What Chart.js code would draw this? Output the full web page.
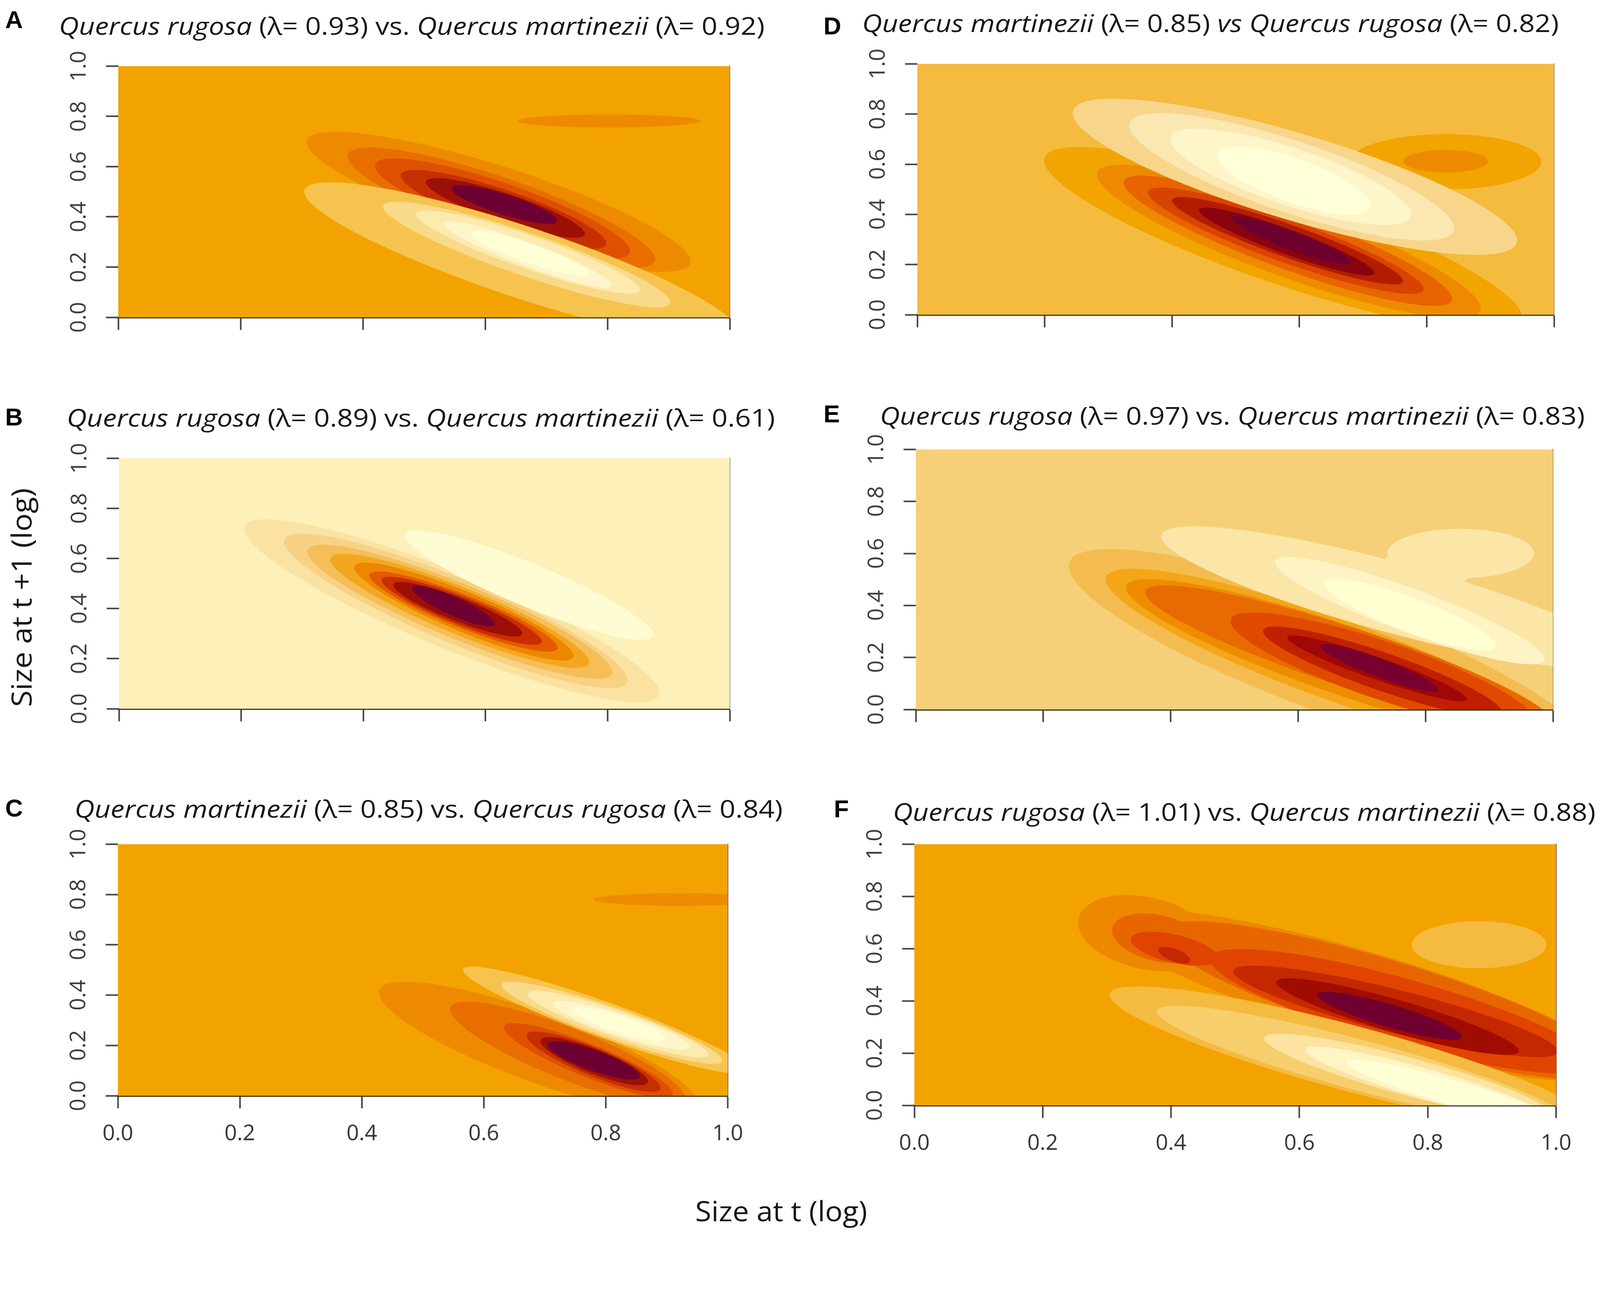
<!DOCTYPE html>
<html>
<head>
<meta charset="utf-8">
<title>Quercus IPM contour comparisons</title>
<script src="https://cdn.jsdelivr.net/npm/chart.js@4.4.1/dist/chart.umd.min.js"></script>
<style>
  html, body { margin: 0; padding: 0; background: #fff; overflow: hidden; }
  #root { position: absolute; left: 0; top: 0; width: 4317px; height: 3325px; transform-origin: 0 0; background: #fff; }
  canvas { position: absolute; }
  .txt { position: absolute; white-space: nowrap; line-height: 1; color: #161616; font-family: "Open Sans", sans-serif; }
  .letter { position: absolute; line-height: 1; font-family: "Liberation Sans", Arial, sans-serif; font-weight: bold; font-size: 66px; color: #000; }
</style>
</head>
<body>
<div id="root"></div>
<script>
// ticks shared by every panel
const tickValues = [0, 0.2, 0.4, 0.6, 0.8, 1.0];
const xTickLabels = ['0.0', '0.2', '0.4', '0.6', '0.8', '1.0'];
const yTickLabels = ['0.0', '0.2', '0.4', '0.6', '0.8', '1.0'];

const panelLetters = ['A', 'B', 'C', 'D', 'E', 'F'];
const firstSpecies = ['Quercus rugosa', 'Quercus rugosa', 'Quercus martinezii', 'Quercus martinezii', 'Quercus rugosa', 'Quercus rugosa'];
const firstLambda = ['0.93', '0.89', '0.85', '0.85', '0.97', '1.01'];
const joinWords = ['vs.', 'vs.', 'vs.', 'vs', 'vs.', 'vs.'];
const secondSpecies = ['Quercus martinezii', 'Quercus martinezii', 'Quercus rugosa', 'Quercus rugosa', 'Quercus martinezii', 'Quercus martinezii'];
const secondLambda = ['0.92', '0.61', '0.84', '0.82', '0.83', '0.88'];

const yAxisTitle = 'Size at t +1 (log)';
const xAxisTitle = 'Size at t (log)';

// filled contour bands, back to front:
// [level, cx, cy, dx, dy, h]  centre (cx,cy), left/right tips at (cx∓dx, cy∓dy), h = vertical half-height at centre
const contoursA = [
  [6, 0.622, 0.460, 0.314, -0.237, 0.147],
  [7, 0.6265, 0.436, 0.2515, -0.205, 0.125],
  [8, 0.6285, 0.433, 0.2085, -0.170, 0.105],
  [9, 0.630, 0.4295, 0.168, -0.1345, 0.081],
  [10, 0.633, 0.4355, 0.130, -0.1025, 0.060],
  [11, 0.6315, 0.449, 0.0865, -0.064, 0.042],
  [6, 0.803, 0.782, 0.149, 0.000, 0.026],
  [4, 0.660, 0.220, 0.356, -0.280, 0.150],
  [3, 0.668, 0.250, 0.235, -0.190, 0.090],
  [2, 0.670, 0.260, 0.183, -0.150, 0.070],
  [1, 0.670, 0.250, 0.138, -0.122, 0.050],
  [0, 0.673, 0.255, 0.097, -0.080, 0.040]
];
const contoursB = [
  [2, 0.545, 0.391, 0.340, -0.327, 0.163],
  [3, 0.5515, 0.391, 0.2815, -0.276, 0.138],
  [4, 0.558, 0.3875, 0.250, -0.2405, 0.118],
  [5, 0.558, 0.391, 0.212, -0.205, 0.100],
  [6, 0.5645, 0.388, 0.1795, -0.176, 0.085],
  [7, 0.564, 0.388, 0.154, -0.144, 0.070],
  [8, 0.561, 0.391, 0.131, -0.122, 0.060],
  [9, 0.5545, 0.3975, 0.1055, -0.0965, 0.050],
  [10, 0.5475, 0.410, 0.0675, -0.0705, 0.040],
  [0, 0.6715, 0.4935, 0.2035, -0.1985, 0.093]
];
const contoursC = [
  [6, 0.689, 0.190, 0.261, -0.220, 0.145],
  [7, 0.7375, 0.1665, 0.1925, -0.1765, 0.109],
  [8, 0.7715, 0.140, 0.1385, -0.131, 0.070],
  [9, 0.780, 0.135, 0.110, -0.104, 0.060],
  [10, 0.781, 0.137, 0.088, -0.080, 0.052],
  [11, 0.7805, 0.140, 0.0755, -0.063, 0.043],
  [6, 0.920, 0.780, 0.140, 0.000, 0.025],
  [4, 0.800, 0.300, 0.234, -0.200, 0.075],
  [3, 0.810, 0.290, 0.181, -0.150, 0.065],
  [2, 0.820, 0.285, 0.149, -0.121, 0.055],
  [1, 0.826, 0.280, 0.113, -0.086, 0.045],
  [0, 0.822, 0.2855, 0.075, -0.0575, 0.035]
];
const contoursD = [
  [5, 0.5745, 0.3025, 0.3755, -0.3125, 0.190],
  [6, 0.5835, 0.292, 0.3015, -0.266, 0.150],
  [7, 0.582, 0.295, 0.258, -0.231, 0.119],
  [8, 0.5785, 0.295, 0.2165, -0.192, 0.090],
  [9, 0.5815, 0.295, 0.1815, -0.160, 0.069],
  [10, 0.580, 0.292, 0.138, -0.125, 0.052],
  [11, 0.587, 0.2975, 0.093, -0.0875, 0.040],
  [5, 0.830, 0.610, 0.150, 0.000, 0.110],
  [6, 0.830, 0.612, 0.066, 0.000, 0.045],
  [3, 0.593, 0.550, 0.349, -0.254, 0.180],
  [2, 0.588, 0.550, 0.255, -0.205, 0.150],
  [1, 0.5865, 0.550, 0.1895, -0.1505, 0.120],
  [0, 0.5915, 0.5355, 0.1205, -0.0995, 0.093]
];
const contoursE = [
  [4, 0.650, 0.200, 0.410, -0.351, 0.225],
  [5, 0.660, 0.190, 0.362, -0.310, 0.165],
  [6, 0.670, 0.190, 0.340, -0.278, 0.140],
  [7, 0.680, 0.200, 0.320, -0.250, 0.120],
  [8, 0.732, 0.150, 0.238, -0.190, 0.117],
  [9, 0.7325, 0.1455, 0.1875, -0.1555, 0.077],
  [10, 0.724, 0.158, 0.141, -0.118, 0.045],
  [11, 0.7275, 0.160, 0.0925, -0.0835, 0.038],
  [2, 0.750, 0.430, 0.365, -0.236, 0.140],
  [2, 0.800, 0.540, 0.070, -0.020, 0.055],
  [2, 0.855, 0.600, 0.115, 0.000, 0.095],
  [1, 0.7755, 0.380, 0.2115, -0.1855, 0.090],
  [0, 0.7755, 0.365, 0.1345, -0.119, 0.070]
];
const contoursF = [
  [6, 0.360, 0.660, 0.105, -0.040, 0.140],
  [6, 0.700, 0.420, 0.400, -0.280, 0.175],
  [7, 0.380, 0.640, 0.072, -0.030, 0.090],
  [7, 0.740, 0.400, 0.360, -0.260, 0.160],
  [8, 0.405, 0.600, 0.068, -0.035, 0.055],
  [8, 0.760, 0.360, 0.300, -0.200, 0.130],
  [9, 0.405, 0.575, 0.025, -0.020, 0.025],
  [9, 0.750, 0.360, 0.253, -0.153, 0.085],
  [10, 0.753, 0.340, 0.189, -0.1315, 0.065],
  [11, 0.7405, 0.343, 0.1125, -0.080, 0.045],
  [4, 0.680, 0.180, 0.376, -0.243, 0.130],
  [3, 0.700, 0.150, 0.322, -0.209, 0.100],
  [2, 0.770, 0.110, 0.225, -0.146, 0.075],
  [1, 0.800, 0.080, 0.191, -0.132, 0.060],
  [0, 0.850, 0.040, 0.177, -0.127, 0.050],
  [4, 0.880, 0.615, 0.105, 0.000, 0.090]
];

// level colours per panel, light -> dark
const shadesA = ['#FFFFD6', '#FEF6CA', '#FCEAAE', '#F9D98A', '#F6C44E', '#F3A300', '#EE8A00', '#E96E00', '#DF5000', '#C63000', '#9C1008', '#6C0032'];
const shadesB = ['#FFFCD4', '#FDF0B8', '#FAE3A2', '#F8D284', '#F5BE58', '#F3A720', '#EE8600', '#E35A00', '#C82E00', '#9C0E08', '#6E0032'];
const shadesC = shadesA;
const shadesD = ['#FFFFD8', '#FEF5C8', '#FBE7B2', '#F7D68C', '#F4BB3E', '#F2A400', '#EE8A00', '#E86400', '#D84400', '#B41C00', '#8A0410', '#6E0030'];
const shadesE = ['#FFFFD2', '#FEF3C4', '#FBE6A8', '#F5D078', '#F4BC50', '#F3A618', '#EE8C00', '#E86A00', '#E04A00', '#C02000', '#A00808', '#780030'];
const shadesF = ['#FFFFD6', '#FEF4C4', '#FBE3A0', '#F7CE6C', '#F5BA40', '#F3A300', '#EE8800', '#E86600', '#E04400', '#C42800', '#A00C00', '#700030'];
const baseLevel = [5, 1, 5, 4, 3, 5];

const allContours = [contoursA, contoursB, contoursC, contoursD, contoursE, contoursF];
const allShades = [shadesA, shadesB, shadesC, shadesD, shadesE, shadesF];

// page layout (pixels, in the 4317 x 3325 frame)
const plotBoxes = [
  [319, 163, 1969, 856], [321, 1221, 1969, 1912], [318, 2262, 1969, 2956],
  [2475, 157, 4193, 849], [2471, 1197, 4190, 1914], [2467, 2262, 4204, 2982]
];
const showXLabels = [false, false, true, false, false, true];
const titleSpans = [
  [159, 2063, 70], [180, 2091, 1127], [201, 2112, 2182],
  [2326, 4206, 62], [2374, 4276, 1122], [2409, 4305, 2190]
];
const letterPos = [[14, 20], [14, 1092], [14, 2147], [2222, 37], [2222, 1083], [2250, 2149]];

const root = document.getElementById('root');

const plotBg = {
  id: 'plotBg',
  beforeDatasetsDraw(chart, args, opts) {
    const { ctx, chartArea: a } = chart;
    ctx.save();
    ctx.fillStyle = opts.color;
    ctx.fillRect(a.left, a.top, a.right - a.left, a.bottom - a.top);
    ctx.restore();
  }
};

function bandOutline(band) {
  const [, cx, cy, dx, dy, h] = band;
  const pts = [];
  const n = 120;
  for (let k = 0; k <= n; k++) {
    const t = (k / n) * 2 * Math.PI;
    pts.push({ x: cx + dx * Math.cos(t), y: cy + dy * Math.cos(t) + h * Math.sin(t) });
  }
  return pts;
}

const tickFont = { family: '"Open Sans", sans-serif', size: 59 };
const yW = 200, padTop = 50, padRight = 70;

plotBoxes.forEach((box, i) => {
  const [left, top, right, bottom] = box;
  const bottomH = showXLabels[i] ? 170 : 70;
  const w = right - left + yW + padRight;
  const h = bottom - top + padTop + bottomH;
  const canvas = document.createElement('canvas');
  canvas.width = w;
  canvas.height = h;
  canvas.style.left = (left - yW) + 'px';
  canvas.style.top = (top - padTop) + 'px';
  canvas.style.width = w + 'px';
  canvas.style.height = h + 'px';
  root.appendChild(canvas);

  const shades = allShades[i];
  const bands = allContours[i];
  const datasets = bands.map((b, k) => ({
    data: bandOutline(b),
    showLine: true,
    fill: 'shape',
    backgroundColor: shades[b[0]],
    borderWidth: 0,
    pointRadius: 0,
    tension: 0,
    order: bands.length - k
  }));

  new Chart(canvas, {
    type: 'scatter',
    data: { datasets },
    plugins: [plotBg],
    options: {
      responsive: false,
      animation: false,
      devicePixelRatio: 1,
      layout: { padding: { top: padTop, right: padRight, left: 0, bottom: 0 } },
      plugins: {
        legend: { display: false },
        tooltip: { enabled: false },
        plotBg: { color: shades[baseLevel[i]] }
      },
      scales: {
        x: {
          type: 'linear', min: 0, max: 1, position: 'bottom', z: 1,
          afterBuildTicks: s => { s.ticks = tickValues.map(v => ({ value: v })); },
          grid: { drawOnChartArea: false, drawTicks: true, tickLength: 34, tickWidth: 4, tickColor: '#3a3a3a' },
          border: { display: true, color: '#3b2f1c', width: 5 },
          ticks: {
            display: showXLabels[i], autoSkip: false, maxRotation: 0, padding: 34,
            color: '#333', font: tickFont, callback: (v, k) => xTickLabels[k]
          },
          afterFit: s => { s.height = bottomH; }
        },
        y: {
          type: 'linear', min: 0, max: 1, position: 'left', z: 1,
          afterBuildTicks: s => { s.ticks = tickValues.map(v => ({ value: v })); },
          grid: { drawOnChartArea: false, drawTicks: true, tickLength: 33, tickWidth: 4, tickColor: '#3a3a3a' },
          border: { display: false },
          ticks: {
            autoSkip: false, minRotation: 90, maxRotation: 90, crossAlign: 'center', padding: 30,
            color: '#3a3a3a', font: tickFont, callback: (v, k) => yTickLabels[k]
          },
          afterFit: s => { s.width = yW; }
        },
        yr: {
          type: 'linear', min: 0, max: 1, position: 'right', z: 1,
          grid: { display: false },
          ticks: { display: false },
          border: { display: true, color: '#4a4a4a', width: 2 },
          afterFit: s => { s.width = 0; }
        }
      }
    }
  });
});

// text overlays (measured before the frame is scaled)
titleSpans.forEach((span, i) => {
  const [x0, x1, cy] = span;
  const fs = 66;
  const el = document.createElement('div');
  el.className = 'txt';
  el.style.fontSize = fs + 'px';
  const joiner = i === 3 ? '<i>' + joinWords[i] + '</i>' : joinWords[i];
  el.innerHTML = '<i>' + firstSpecies[i] + '</i> (λ= ' + firstLambda[i] + ') ' + joiner +
    ' <i>' + secondSpecies[i] + '</i> (λ= ' + secondLambda[i] + ')';
  el.style.left = x0 + 'px';
  el.style.top = (cy - 0.53 * fs) + 'px';
  root.appendChild(el);
  const k = (x1 - x0) / el.getBoundingClientRect().width;
  el.style.transformOrigin = 'left center';
  el.style.transform = 'scaleX(' + k + ')';

  const lt = document.createElement('div');
  lt.className = 'letter';
  lt.textContent = panelLetters[i];
  lt.style.left = letterPos[i][0] + 'px';
  lt.style.top = letterPos[i][1] + 'px';
  root.appendChild(lt);
});

(function () {
  const fs = 76;
  const yt = document.createElement('div');
  yt.className = 'txt';
  yt.style.fontSize = fs + 'px';
  yt.textContent = yAxisTitle;
  root.appendChild(yt);
  const r = yt.getBoundingClientRect();
  yt.style.left = (56 - r.width / 2) + 'px';
  yt.style.top = (1612 - r.height / 2) + 'px';
  yt.style.transformOrigin = 'center center';
  yt.style.transform = 'rotate(-90deg) scaleX(' + (590 / r.width) + ')';

  const xt = document.createElement('div');
  xt.className = 'txt';
  xt.style.fontSize = fs + 'px';
  xt.textContent = xAxisTitle;
  root.appendChild(xt);
  const r2 = xt.getBoundingClientRect();
  xt.style.left = (2108 - r2.width / 2) + 'px';
  xt.style.top = (3268 - 0.53 * fs) + 'px';
  xt.style.transformOrigin = 'center center';
  xt.style.transform = 'scaleX(' + (464 / r2.width) + ')';
})();

// fit the 4317-wide frame to the actual viewport width, keeping proportions
const fitScale = window.innerWidth / 4317;
root.style.transform = 'scale(' + fitScale + ')';
</script>
</body>
</html>
